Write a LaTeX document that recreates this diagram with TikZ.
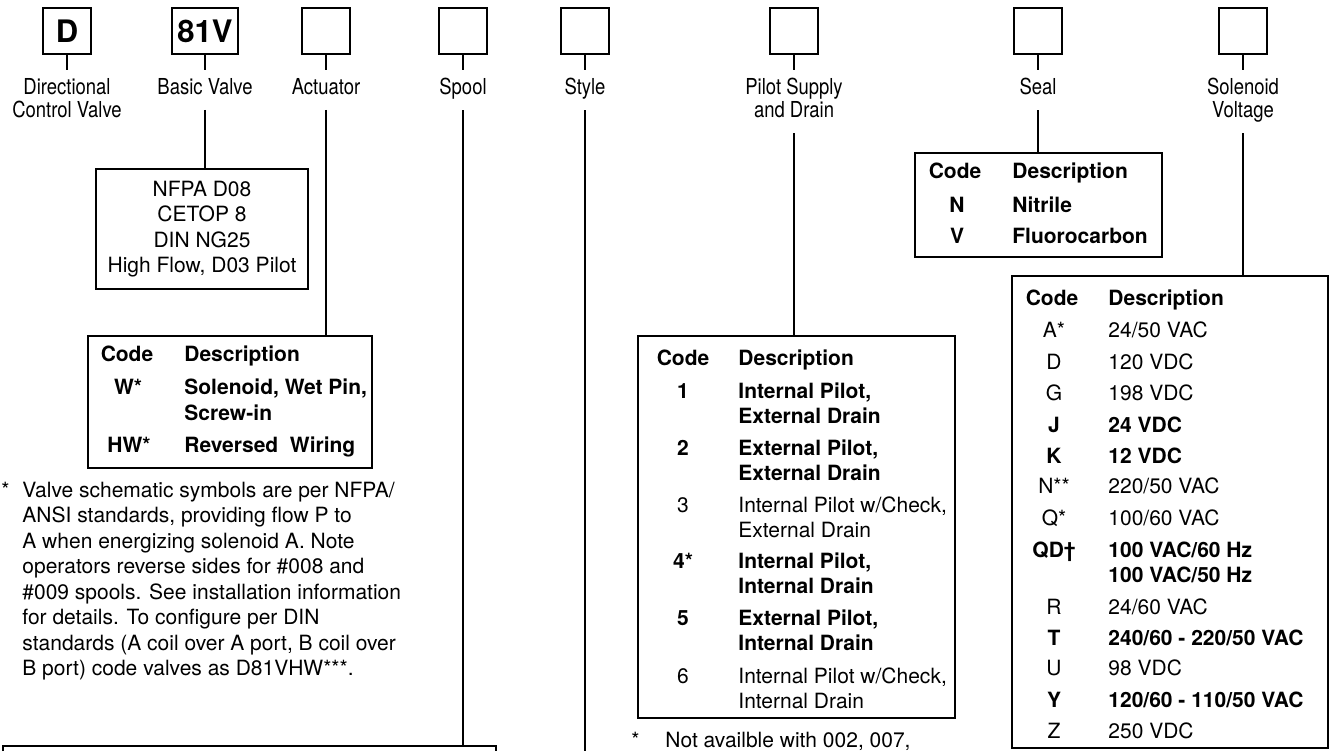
\documentclass[tikz,border=0pt]{standalone}
\usepackage{fontspec}
\setmainfont{TeX Gyre Heros}
\newfontfamily\narrowfont[FakeStretch=0.84]{TeX Gyre Heros}
\usepackage{tikz}
\usetikzlibrary{positioning}

\newcommand\tabfont{\fontsize{10.5pt}{12.5pt}\selectfont}
\newcommand\stack[1]{\begin{tabular}[t]{@{}l@{}}#1\end{tabular}}

\tikzset{
  codebox/.style={draw, line width=1pt, minimum width=24pt, minimum height=23pt,
    inner sep=0pt, font=\bfseries\fontsize{15.5pt}{18pt}\selectfont},
  fieldlbl/.style={align=center, inner xsep=0pt, inner ysep=4pt,
    font=\narrowfont\fontsize{11pt}{11.5pt}\selectfont,
    execute at begin node=\strut, execute at end node=\strut},
  wire/.style={line width=0.65pt},
  tabframe/.style={draw, line width=1pt, inner sep=0pt},
  cell/.style={inner sep=0pt, font=\tabfont},
  strong/.style={font=\tabfont\bfseries},
  codecell/.style={cell, anchor=base},
  desccell/.style={cell, anchor=base west},
}

\begin{document}
\begin{tikzpicture}[x=0.5pt, y=-0.5pt, node distance=7.5pt]
	\useasboundingbox (0,0) rectangle (1331,751);

	% model code boxes
	\node[codebox] (dbox) at (67,31) {D};
	\node[codebox, minimum width=33pt] (vbox) at (205,31) {81V};
	\node[codebox] (actbox) at (326,31) {};
	\node[codebox] (spoolbox) at (463,31) {};
	\node[codebox] (stylebox) at (585,31) {};
	\node[codebox] (pilotbox) at (794,31) {};
	\node[codebox] (sealbox) at (1038,31) {};
	\node[codebox] (solbox) at (1243,31) {};

	\node[fieldlbl, below=of dbox] (dlbl) {Directional\\Control Valve};
	\node[fieldlbl, below=of vbox] (vlbl) {Basic Valve};
	\node[fieldlbl, below=of actbox] (actlbl) {Actuator};
	\node[fieldlbl, below=of spoolbox] (spoollbl) {Spool};
	\node[fieldlbl, below=of stylebox] (stylelbl) {Style};
	\node[fieldlbl, below=of pilotbox] (pilotlbl) {Pilot Supply\\and Drain};
	\node[fieldlbl, below=of sealbox] (seallbl) {Seal};
	\node[fieldlbl, below=of solbox] (sollbl) {Solenoid\\Voltage};

	\foreach \b/\l in {dbox/dlbl, vbox/vlbl, actbox/actlbl, spoolbox/spoollbl,
	  stylebox/stylelbl, pilotbox/pilotlbl, sealbox/seallbl, solbox/sollbl}
	  \draw[wire] (\b) -- (\l);

	% tables
	\node[tabframe, minimum width=106pt, minimum height=60pt, align=center,
	  font=\fontsize{10.5pt}{12.65pt}\selectfont] (stdtab) at (202,229)
	  {NFPA D08\\CETOP 8\\DIN NG25\\High Flow, D03 Pilot};
	\node[tabframe, minimum width=142pt, minimum height=66pt] (acttab) at (230,402) {};
	\node[tabframe, minimum width=158.5pt, minimum height=191pt] (pilottab) at (796.5,527) {};
	\node[tabframe, minimum width=123.5pt, minimum height=52pt] (sealtab) at (1038.5,205) {};
	\node[tabframe, minimum width=158pt, minimum height=236pt] (soltab) at (1170,512) {};
	\coordinate (spoolend) at (463,746);
	\coordinate (styleend) at (585,751);
	\draw[line width=1pt] (3,751) |- (496,746) -- (496,751);

	\draw[wire] (vlbl) -- (vlbl |- stdtab.north);
	\draw[wire] (actlbl) -- (actlbl |- acttab.north);
	\draw[wire] (spoollbl) -- (spoolend);
	\draw[wire] (stylelbl) -- (styleend);
	\draw[wire] (pilotlbl) -- (pilotlbl |- pilottab.north);
	\draw[wire] (seallbl) -- (seallbl |- sealtab.north);
	\draw[wire] (sollbl) -- (sollbl |- soltab.north);

	% actuator
	\path
	(127,361) node[codecell, strong] (actc0) {Code}
	(184,361) node[desccell, strong] (actd0) {Description}
	(128,394) node[codecell, strong] (actc1) {W*}
	(184,394) node[desccell, font=\fontsize{10.5pt}{13pt}\selectfont\bfseries] (actd1) {\stack{Solenoid, Wet Pin,\\Screw-in}}
	(129,452) node[codecell, strong] (actc2) {HW*}
	(184,452) node[desccell, strong] (actd2) {Reversed\ \ Wiring}
	;
	\node[cell, anchor=base west] (actstar) at (1,497) {*};
	\node[cell, anchor=base west, font=\fontsize{10.5pt}{12.75pt}\selectfont] (actnote) at (22,497)
	  {\stack{Valve schematic symbols are per NFPA/\\ANSI standards, providing flow P to\\A when energizing solenoid A. Note\\operators reverse sides for \#008 and\\\#009 spools. See installation information\\for details. To configure per DIN\\standards (A coil over A port, B coil over\\B port) code valves as D81VHW***.}};

	% pilot supply and drain
	\path
	(683,365) node[codecell, strong] (pc0) {Code}
	(738,365) node[desccell, strong] (pd0) {Description}
	(683,398) node[codecell, strong] (pc1) {1}
	(738,398) node[desccell, strong] (pd1) {\stack{Internal Pilot,\\External Drain}}
	(683,455) node[codecell, strong] (pc2) {2}
	(738,455) node[desccell, strong] (pd2) {\stack{External Pilot,\\External Drain}}
	(683,512) node[codecell] (pc3) {3}
	(738,512) node[desccell] (pd3) {\stack{Internal Pilot w/Check,\\External Drain}}
	(683,568) node[codecell, strong] (pc4) {4*}
	(738,568) node[desccell, strong] (pd4) {\stack{Internal Pilot,\\Internal Drain}}
	(683,625) node[codecell, strong] (pc5) {5}
	(738,625) node[desccell, strong] (pd5) {\stack{External Pilot,\\Internal Drain}}
	(683,683) node[codecell] (pc6) {6}
	(738,683) node[desccell] (pd6) {\stack{Internal Pilot w/Check,\\Internal Drain}}
	;
	\node[cell, anchor=base west] (pilotstar) at (631,747) {*};
	\node[cell, anchor=base west] (pilotnote) at (665,747) {Not availble with 002, 007,};

	% seal
	\path
	(955,178) node[codecell, strong] (sc0) {Code}
	(1012,178) node[desccell, strong] (sd0) {Description}
	(957,212) node[codecell, strong] (sc1) {N}
	(1012,212) node[desccell, strong] (sd1) {Nitrile}
	(957,243) node[codecell, strong] (sc2) {V}
	(1012,243) node[desccell, strong] (sd2) {Fluorocarbon}
	;

	% solenoid voltage
	\path
	(1052,305) node[codecell, strong] (vc0) {Code}
	(1108,305) node[desccell, strong] (vd0) {Description}
	(1054,337) node[codecell] (vcA) {A*}
	(1108,337) node[desccell] (vdA) {24/50 VAC}
	(1054,369) node[codecell] (vcD) {D}
	(1108,369) node[desccell] (vdD) {120 VDC}
	(1054,400) node[codecell] (vcG) {G}
	(1108,400) node[desccell] (vdG) {198 VDC}
	(1054,432) node[codecell, strong] (vcJ) {J}
	(1108,432) node[desccell, strong] (vdJ) {24 VDC}
	(1054,463) node[codecell, strong] (vcK) {K}
	(1108,463) node[desccell, strong] (vdK) {12 VDC}
	(1054,493) node[codecell] (vcN) {N**}
	(1108,493) node[desccell] (vdN) {220/50 VAC}
	(1054,525) node[codecell] (vcQ) {Q*}
	(1108,525) node[desccell] (vdQ) {100/60 VAC}
	(1054,557) node[codecell, strong] (vcQD) {QD\textdagger}
	(1108,557) node[desccell, strong] (vdQD) {\stack{100 VAC/60 Hz\\100 VAC/50 Hz}}
	(1054,614) node[codecell] (vcR) {R}
	(1108,614) node[desccell] (vdR) {24/60 VAC}
	(1054,645) node[codecell, strong] (vcT) {T}
	(1108,645) node[desccell, strong] (vdT) {240/60 - 220/50 VAC}
	(1054,675) node[codecell] (vcU) {U}
	(1108,675) node[desccell] (vdU) {98 VDC}
	(1054,707) node[codecell, strong] (vcY) {Y}
	(1108,707) node[desccell, strong] (vdY) {120/60 - 110/50 VAC}
	(1054,738) node[codecell] (vcZ) {Z}
	(1108,738) node[desccell] (vdZ) {250 VDC}
	;
\end{tikzpicture}
\end{document}
